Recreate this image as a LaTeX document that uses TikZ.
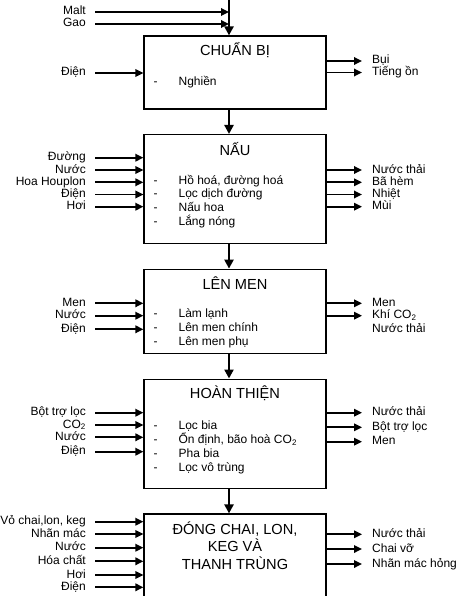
\documentclass[tikz,border=0pt]{standalone}
\usepackage{fontspec}
\setmainfont{Liberation Sans}
\usepackage{tikz}
\usetikzlibrary{arrows.meta, positioning}

\newcommand{\stepdash}{\makebox[25pt][l]{-}}

\begin{document}
\begin{tikzpicture}[
  x=1pt, y=-1pt,
  font=\fontsize{12}{14}\selectfont,
  node distance=24.4pt,
  procbox/.style={rectangle, draw=black, line width=1.2pt, minimum width=182pt, inner sep=0pt},
  boxtitle/.style={font=\fontsize{14.6}{17.5}\selectfont, align=center, inner sep=0pt},
  stepitem/.style={anchor=west, inner sep=0pt, text height=8.6pt, text depth=2.6pt},
  inlbl/.style={anchor=east, inner xsep=0pt, inner ysep=0pt, text height=8.6pt, text depth=2.6pt},
  outlbl/.style={anchor=west, inner xsep=0pt, inner ysep=0pt, text height=8.6pt, text depth=2.6pt},
  flow/.style={line width=1.7pt, -{Triangle[length=8pt, width=7.5pt]}},
  mainflow/.style={line width=2.8pt, -{Triangle[length=9pt, width=9pt]}}
]
\useasboundingbox (0,0) rectangle (457,596);

% process boxes
\node (prep) [procbox, minimum height=73pt] at (235,72.5) {};
\node (cook) [procbox, minimum height=109pt, below=of prep] {};
\node (ferm) [procbox, minimum height=84.3pt, below=of cook] {};
\node (finish) [procbox, minimum height=109.3pt, below=of ferm] {};
\node (pack) [procbox, minimum height=83.4pt, below=of finish] {};

% titles
\node (prep-t) [boxtitle] at ([yshift=-15pt]prep.north) {CHUẨN BỊ};
\node (cook-t) [boxtitle] at ([yshift=-15pt]cook.north) {NẤU};
\node (ferm-t) [boxtitle] at ([yshift=-15pt]ferm.north) {LÊN MEN};
\node (finish-t) [boxtitle] at ([yshift=-15pt]finish.north) {HOÀN THIỆN};
\node (pack-t) [boxtitle] at ([yshift=10pt]pack.center) {ĐÓNG CHAI, LON,\\KEG VÀ\\THANH TRÙNG};

% steps inside the boxes
\foreach \s [count=\i] in {Nghiền}
  \node (prep-s\i) [stepitem] at ([xshift=10pt, yshift={-47pt-13.9pt*(\i-1)}]prep.north west) {\stepdash\s};
\foreach \s [count=\i] in {{Hồ hoá, đường hoá}, Lọc dịch đường, Nấu hoa, Lắng nóng}
  \node (cook-s\i) [stepitem] at ([xshift=10pt, yshift={-47pt-13.8pt*(\i-1)}]cook.north west) {\stepdash\s};
\foreach \s [count=\i] in {Làm lạnh, Lên men chính, Lên men phụ}
  \node (ferm-s\i) [stepitem] at ([xshift=10pt, yshift={-46pt-14pt*(\i-1)}]ferm.north west) {\stepdash\s};
\foreach \s [count=\i] in {Lọc bia, {Ổn định, bão hoà CO\textsubscript{2}}, Pha bia, Lọc vô trùng}
  \node (finish-s\i) [stepitem] at ([xshift=10pt, yshift={-47.8pt-13.9pt*(\i-1)}]finish.north west) {\stepdash\s};

% main line
\coordinate (spine) at (229,0);
\draw [mainflow] (spine) -- (spine |- prep.north);
\draw [mainflow] (spine |- prep.south) -- (spine |- cook.north);
\draw [mainflow] (spine |- cook.south) -- (spine |- ferm.north);
\draw [mainflow] (spine |- ferm.south) -- (spine |- finish.north);
\draw [mainflow] (spine |- finish.south) -- (spine |- pack.north);

% raw materials
\foreach \t/\y [count=\i] in {Malt/12, Gao/24} {
  \node (raw\i) [inlbl] at (86,\y) {\t};
  \draw [flow] ([xshift=9pt]raw\i.east) -- (raw\i.east -| spine);
}

% inputs
\foreach \t/\y [count=\i] in {Điện/73} {
  \node (prep-in\i) [inlbl] at (86,\y) {\t};
  \draw [flow] ([xshift=9pt]prep-in\i.east) -- (prep-in\i.east -| prep.west);
}
\foreach \t/\y [count=\i] in {Đường/157.7, Nước/170, Hoa Houplon/182.3, Điện/194.5, Hơi/206.7} {
  \node (cook-in\i) [inlbl] at (86,\y) {\t};
  \draw [flow] ([xshift=9pt]cook-in\i.east) -- (cook-in\i.east -| cook.west);
}
\foreach \t/\y [count=\i] in {Men/303.3, Nước/315.7, Điện/329.3} {
  \node (ferm-in\i) [inlbl] at (86,\y) {\t};
  \draw [flow] ([xshift=9pt]ferm-in\i.east) -- (ferm-in\i.east -| ferm.west);
}
\foreach \t/\y [count=\i] in {Bột trợ lọc/412.7, CO\textsubscript{2}/425, Nước/437.3, Điện/451.7} {
  \node (finish-in\i) [inlbl] at (86,\y) {\t};
  \draw [flow] ([xshift=9pt]finish-in\i.east) -- (finish-in\i.east -| finish.west);
}
\foreach \t/\y [count=\i] in {{Vỏ chai,lon, keg}/521.7, Nhãn mác/534, Nước/547.7, Hóa chất/561.3, Hơi/575, Điện/587.3} {
  \node (pack-in\i) [inlbl] at (86,\y) {\t};
  \draw [flow] ([xshift=9pt]pack-in\i.east) -- (pack-in\i.east -| pack.west);
}

% outputs
\foreach \t/\y [count=\i] in {Bụi/61, Tiếng ồn/72.5} {
  \node (prep-out\i) [outlbl] at (372,\y) {\t};
  \draw [flow] (prep-out\i.west -| prep.east) -- ([xshift=-10pt]prep-out\i.west);
}
\foreach \t/\y [count=\i] in {Nước thải/170, Bã hèm/182.3, Nhiệt/194.5, Mùi/206.7} {
  \node (cook-out\i) [outlbl] at (372,\y) {\t};
  \draw [flow] (cook-out\i.west -| cook.east) -- ([xshift=-10pt]cook-out\i.west);
}
\foreach \t/\y [count=\i] in {Men/303.3, Khí CO\textsubscript{2}/315.7} {
  \node (ferm-out\i) [outlbl] at (372,\y) {\t};
  \draw [flow] (ferm-out\i.west -| ferm.east) -- ([xshift=-10pt]ferm-out\i.west);
}
\node (ferm-out3) [outlbl] at (372,329.5) {Nước thải};
\foreach \t/\y [count=\i] in {Nước thải/412.7, Bột trợ lọc/427.3, Men/441.7} {
  \node (finish-out\i) [outlbl] at (372,\y) {\t};
  \draw [flow] (finish-out\i.west -| finish.east) -- ([xshift=-10pt]finish-out\i.west);
}
\foreach \t/\y [count=\i] in {Nước thải/534.3, Chai vỡ/549, Nhãn mác hỏng/564} {
  \node (pack-out\i) [outlbl] at (372,\y) {\t};
  \draw [flow] (pack-out\i.west -| pack.east) -- ([xshift=-10pt]pack-out\i.west);
}
\end{tikzpicture}
\end{document}
